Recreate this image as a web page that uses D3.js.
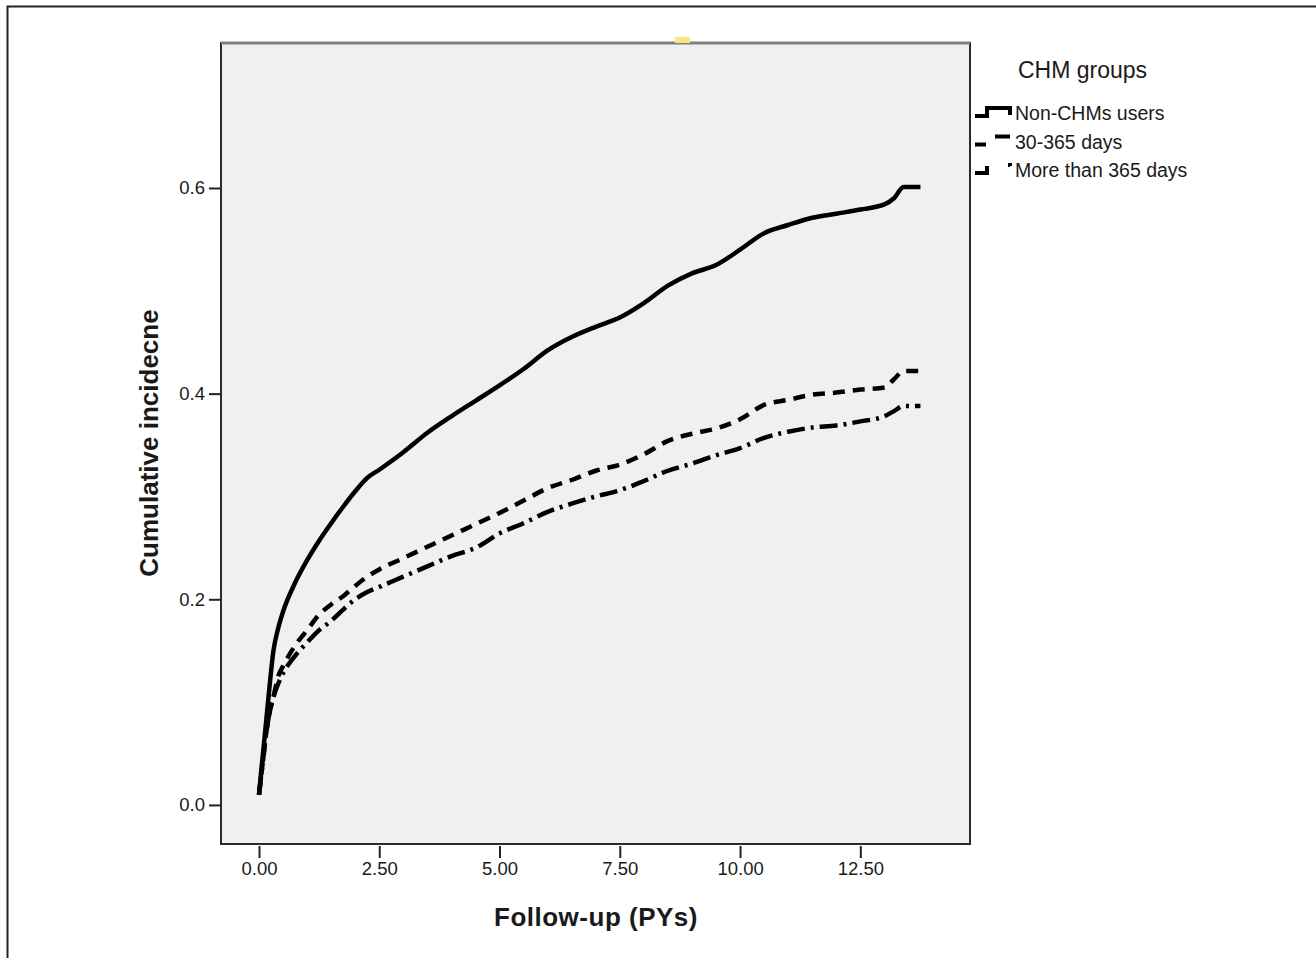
<!DOCTYPE html>
<html>
<head>
<meta charset="utf-8">
<script src="https://cdn.jsdelivr.net/npm/d3@7"></script>
<style>
  body { margin: 0; background: #fff; }
  svg text { font-family: "Liberation Sans", Arial, sans-serif; fill: #1a1a1a; }
</style>
</head>
<body>
<svg width="1316" height="958"></svg>
<script>
// follow-up time (PYs) at which the curves were read
const followUp = [0, 0.05, 0.1, 0.15, 0.2, 0.3, 0.4, 0.5, 0.75, 1.0, 1.25, 1.5, 1.75, 2.0, 2.25, 2.5,
  3.0, 3.5, 4.0, 4.5, 5.0, 5.5, 6.0, 6.5, 7.0, 7.5, 8.0, 8.5, 9.0, 9.5, 10.0, 10.5, 11.0, 11.5,
  12.0, 12.5, 13.0, 13.2, 13.4, 13.75];

const nonUsers = [0.01, 0.035, 0.058, 0.082, 0.106, 0.15, 0.172, 0.188, 0.216, 0.238, 0.257, 0.274, 0.29, 0.305, 0.318, 0.326,
  0.343, 0.362, 0.378, 0.393, 0.408, 0.424, 0.442, 0.455, 0.465, 0.474, 0.488, 0.505, 0.517, 0.525, 0.54, 0.556, 0.564, 0.571,
  0.575, 0.579, 0.584, 0.59, 0.601, 0.601];

const days30to365 = [0.01, 0.03, 0.05, 0.07, 0.085, 0.105, 0.125, 0.135, 0.155, 0.17, 0.185, 0.195, 0.203, 0.213, 0.222, 0.229,
  0.24, 0.251, 0.262, 0.273, 0.284, 0.296, 0.308, 0.316, 0.325, 0.331, 0.341, 0.354, 0.361, 0.366, 0.375, 0.389, 0.394, 0.399,
  0.401, 0.404, 0.406, 0.414, 0.422, 0.422];

const moreThan365 = [0.01, 0.03, 0.05, 0.07, 0.085, 0.105, 0.118, 0.128, 0.145, 0.158, 0.17, 0.179, 0.19, 0.2, 0.207, 0.212,
  0.222, 0.232, 0.242, 0.25, 0.264, 0.274, 0.285, 0.293, 0.3, 0.306, 0.315, 0.325, 0.332, 0.34, 0.347, 0.357, 0.363, 0.367,
  0.369, 0.373, 0.378, 0.383, 0.388, 0.388];

const groupNames = ['Non-CHMs users', '30-365 days', 'More than 365 days'];
const xTicks = [0, 2.5, 5, 7.5, 10, 12.5];
const yTicks = [0, 0.2, 0.4, 0.6];

const svg = d3.select('svg');

// frame of the plot area
const plotLeft = 221, plotRight = 970, plotTop = 43, plotBottom = 844;

const xScale = d3.scaleLinear().domain([-0.79, 14.78]).range([plotLeft, plotRight]);
const yScale = d3.scaleLinear().domain([-0.038, 0.741]).range([plotBottom, plotTop]);

// outer border (only top and left visible)
svg.append('path')
  .attr('d', 'M7.5,958 V6.5 H1316')
  .attr('fill', 'none')
  .attr('stroke', '#222')
  .attr('stroke-width', 2);

svg.append('rect')
  .attr('x', plotLeft).attr('y', plotTop)
  .attr('width', plotRight - plotLeft).attr('height', plotBottom - plotTop)
  .attr('fill', '#f0f0f0')
  .attr('stroke', '#2a2a2a')
  .attr('stroke-width', 2);

svg.append('line')
  .attr('x1', plotLeft).attr('x2', plotRight)
  .attr('y1', plotTop).attr('y2', plotTop)
  .attr('stroke', '#808080')
  .attr('stroke-width', 3);

// little yellow marker on the top edge
svg.append('rect')
  .attr('x', 675).attr('y', 37)
  .attr('width', 15).attr('height', 6)
  .attr('fill', '#fde482');

// axes
const yAxis = svg.append('g')
  .attr('transform', `translate(${plotLeft},0)`)
  .call(d3.axisLeft(yScale).tickValues(yTicks).tickFormat(d3.format('.1f')).tickSize(12).tickPadding(4));

const xAxis = svg.append('g')
  .attr('transform', `translate(0,${plotBottom + 2})`)
  .call(d3.axisBottom(xScale).tickValues(xTicks).tickFormat(d3.format('.2f')).tickSize(12).tickPadding(4));

[xAxis, yAxis].forEach(ax => {
  ax.select('.domain').remove();
  ax.selectAll('.tick line').attr('stroke', '#222').attr('stroke-width', 2);
  ax.selectAll('.tick text')
    .style('font-size', '18.5px')
    .attr('fill', '#1a1a1a');
});

// axis titles
svg.append('text')
  .attr('transform', `translate(158,443) rotate(-90)`)
  .attr('text-anchor', 'middle')
  .style('font-size', '26px')
  .style('font-weight', 'bold')
  .text('Cumulative incidecne');

svg.append('text')
  .attr('x', 596)
  .attr('y', 926)
  .attr('text-anchor', 'middle')
  .style('font-size', '26px')
  .style('font-weight', 'bold')
  .style('letter-spacing', '0.5px')
  .text('Follow-up (PYs)');

// curves
const series = [
  { name: groupNames[0], values: nonUsers, dash: null, legendDash: null },
  { name: groupNames[1], values: days30to365, dash: '12 8', legendDash: '11 17 15 100' },
  { name: groupNames[2], values: moreThan365, dash: '18 6 3 6', legendDash: '19 22 3 100' }
];

const line = d3.line()
  .curve(d3.curveMonotoneX)
  .x(d => xScale(d[0]))
  .y(d => yScale(d[1]));

svg.append('g')
  .selectAll('path')
  .data(series)
  .join('path')
  .attr('d', s => line(followUp.map((t, i) => [t, s.values[i]])))
  .attr('fill', 'none')
  .attr('stroke', '#000')
  .attr('stroke-width', 4.5)
  .attr('stroke-linejoin', 'round')
  .attr('stroke-dasharray', s => s.dash);

// legend
svg.append('text')
  .attr('x', 1018)
  .attr('y', 78)
  .style('font-size', '23px')
  .text('CHM groups');

const legendRows = svg.append('g')
  .selectAll('g')
  .data(series)
  .join('g')
  .attr('transform', (s, i) => `translate(0,${120 + i * 28.5})`);

legendRows.append('path')
  .attr('d', 'M975,-4 H987 V-12 H1010 V-5')
  .attr('fill', 'none')
  .attr('stroke', '#000')
  .attr('stroke-width', 4)
  .attr('stroke-dasharray', s => s.legendDash);

legendRows.append('text')
  .attr('x', 1015)
  .attr('y', 0)
  .style('font-size', '19.5px')
  .text(s => s.name);
</script>
</body>
</html>
